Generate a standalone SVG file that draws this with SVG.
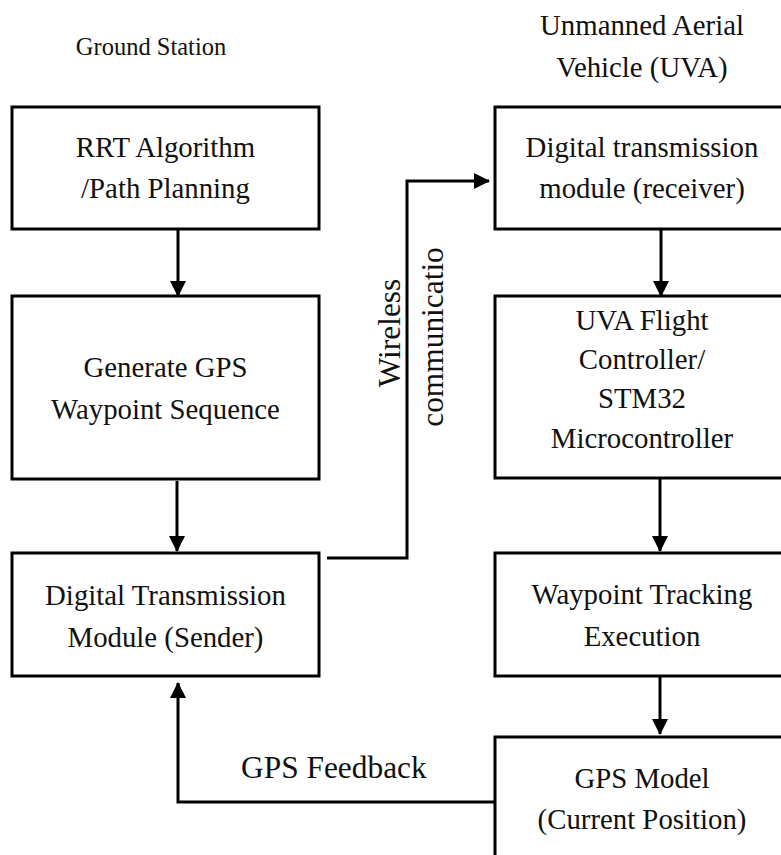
<svg xmlns="http://www.w3.org/2000/svg" width="781" height="855" viewBox="0 0 781 855">
  <style>
    .box { fill: #ffffff; stroke: #000000; stroke-width: 3; }
    .txt { font-family: "Liberation Serif", "Times New Roman", serif; font-size: 28.8px; fill: #111111; text-anchor: middle; }
    .hdr { font-family: "Liberation Serif", "Times New Roman", serif; fill: #111111; text-anchor: middle; }
    .lbl { font-family: "Liberation Serif", "Times New Roman", serif; font-size: 31.4px; fill: #111111; }
    .conn { fill: none; stroke: #000000; stroke-width: 3; }
  </style>
  <defs>
    <marker id="arrow" markerUnits="userSpaceOnUse" markerWidth="16" markerHeight="16" refX="15" refY="8" orient="auto">
      <path d="M0,0 L16,8 L0,16 z" fill="#000000"/>
    </marker>
  </defs>
  <rect width="781" height="855" fill="#ffffff"/>

  <!-- column headers -->
  <text class="hdr" x="151" y="55" font-size="24.5">Ground Station</text>
  <text class="hdr" x="642" y="35" font-size="28.8">Unmanned Aerial</text>
  <text class="hdr" x="642" y="77" font-size="28.8">Vehicle (UVA)</text>

  <!-- ground station column -->
  <g id="rrt">
    <rect class="box" x="12" y="107" width="307" height="122"/>
    <text class="txt" x="165.5" y="157">RRT Algorithm</text>
    <text class="txt" x="165.5" y="198">/Path Planning</text>
  </g>
  <g id="gps-sequence">
    <rect class="box" x="12" y="296" width="307" height="183"/>
    <text class="txt" x="165.5" y="377">Generate GPS</text>
    <text class="txt" x="165.5" y="419">Waypoint Sequence</text>
  </g>
  <g id="sender">
    <rect class="box" x="12" y="553" width="307" height="123"/>
    <text class="txt" x="165.5" y="605">Digital Transmission</text>
    <text class="txt" x="165.5" y="647">Module (Sender)</text>
  </g>

  <!-- vehicle column -->
  <g id="receiver">
    <rect class="box" x="495" y="107" width="295" height="122"/>
    <text class="txt" x="642" y="157">Digital transmission</text>
    <text class="txt" x="642" y="198">module (receiver)</text>
  </g>
  <g id="flight-controller">
    <rect class="box" x="495" y="296" width="295" height="182"/>
    <text class="txt" x="642" y="330">UVA Flight</text>
    <text class="txt" x="642" y="369">Controller/</text>
    <text class="txt" x="642" y="408">STM32</text>
    <text class="txt" x="642" y="448">Microcontroller</text>
  </g>
  <g id="tracking">
    <rect class="box" x="495" y="553" width="295" height="123"/>
    <text class="txt" x="642" y="604">Waypoint Tracking</text>
    <text class="txt" x="642" y="646">Execution</text>
  </g>
  <g id="gps-model">
    <rect class="box" x="495" y="737" width="295" height="140"/>
    <text class="txt" x="642" y="788">GPS Model</text>
    <text class="txt" x="642" y="829">(Current Position)</text>
  </g>

  <!-- connectors -->
  <g id="connectors">
    <path class="conn" d="M178,229 V296" marker-end="url(#arrow)"/>
    <path class="conn" d="M177,481 V551" marker-end="url(#arrow)"/>
    <path class="conn" d="M661,229 V296" marker-end="url(#arrow)"/>
    <path class="conn" d="M660,478 V551" marker-end="url(#arrow)"/>
    <path class="conn" d="M660,676 V734" marker-end="url(#arrow)"/>
    <path class="conn" d="M327,558 H407 V181 H489" marker-end="url(#arrow)"/>
    <path class="conn" d="M495,802 H178 V683" marker-end="url(#arrow)"/>
    <text class="lbl" x="241" y="778">GPS Feedback</text>
    <text class="lbl" text-anchor="middle" transform="translate(400,333) rotate(-90)">Wireless</text>
    <text class="lbl" text-anchor="middle" transform="translate(443,337) rotate(-90)">communicatio</text>
  </g>
</svg>
